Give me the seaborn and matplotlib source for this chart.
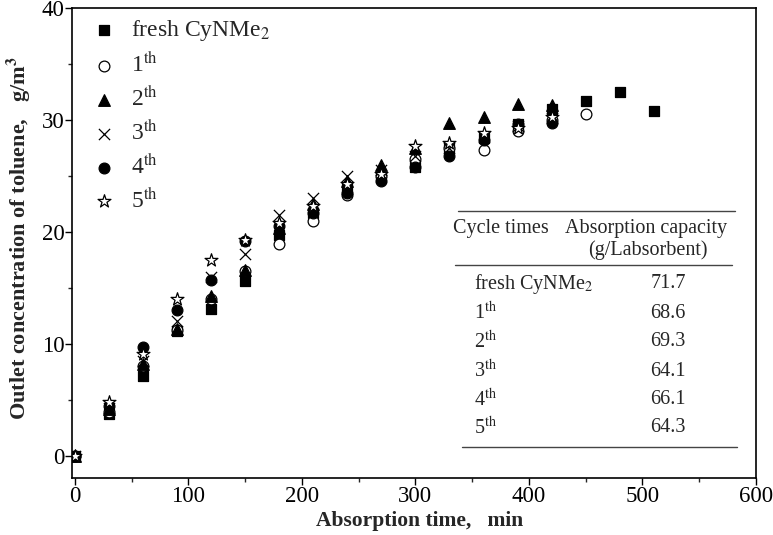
import matplotlib
matplotlib.use("Agg")
import matplotlib.pyplot as plt
import seaborn as sns
import pandas as pd

sns.set_style("ticks")
plt.rcParams['font.family'] = ['Liberation Serif', 'DejaVu Serif']
plt.rcParams['mathtext.fontset'] = 'stix'

times_fresh = [0, 30, 60, 90, 120, 150, 180, 210, 240, 270, 300, 330, 360, 390, 420, 450, 480, 510]
fresh = [0, 3.7, 7.1, 11.1, 13.1, 15.6, 19.7, 21.7, 23.8, 24.8, 25.8, 27.4, 28.4, 29.6, 31.0, 31.7, 32.5, 30.8]
times_1 = [0, 30, 60, 90, 120, 150, 180, 210, 240, 270, 300, 330, 360, 390, 420, 450]
cyc1 = [0, 3.9, 8.0, 11.2, 14.0, 16.5, 18.9, 21.0, 23.3, 25.0, 26.5, 27.5, 27.3, 29.0, 30.0, 30.5]
times_n = [0, 30, 60, 90, 120, 150, 180, 210, 240, 270, 300, 330, 360, 390, 420]
cyc2 = [0, 4.2, 8.2, 11.3, 14.3, 16.6, 20.3, 22.5, 24.5, 26.0, 27.5, 29.7, 30.3, 31.4, 31.3]
cyc3 = [0, 4.3, 8.5, 12.0, 16.0, 18.0, 21.5, 23.0, 25.0, 25.5, 26.8, 27.5, 28.5, 29.5, 30.2]
cyc4 = [0, 4.4, 9.7, 13.0, 15.7, 19.2, 20.5, 21.7, 23.5, 24.5, 25.8, 26.8, 28.2, 29.6, 29.7]
cyc5 = [0, 4.8, 9.1, 14.0, 17.5, 19.3, 20.8, 22.3, 24.3, 25.2, 27.7, 27.9, 28.8, 29.3, 30.3]

labels = ["fresh CyNMe$_2$", "1$^{\\rm th}$", "2$^{\\rm th}$", "3$^{\\rm th}$", "4$^{\\rm th}$", "5$^{\\rm th}$"]
series = [(times_fresh, fresh), (times_1, cyc1), (times_n, cyc2), (times_n, cyc3), (times_n, cyc4), (times_n, cyc5)]

table_rows = ["fresh CyNMe$_2$", "1$^{\\rm th}$", "2$^{\\rm th}$", "3$^{\\rm th}$", "4$^{\\rm th}$", "5$^{\\rm th}$"]
table_vals = ["71.7", "68.6", "69.3", "64.1", "66.1", "64.3"]

styles = [
    dict(marker='s', facecolor='black', edgecolor='black', s=50),
    dict(marker='o', facecolor='white', edgecolor='black', s=60),
    dict(marker='^', facecolor='black', edgecolor='black', s=70),
    dict(marker='x', color='black', s=65),
    dict(marker='o', facecolor='black', edgecolor='black', s=60),
    dict(marker='*', facecolor='white', edgecolor='black', s=95),
]

L, R, T, B = 72, 756, 8, 478
W, H = 773, 535
fig = plt.figure(figsize=(7.73, 5.35), dpi=100)
ax = fig.add_axes([L / W, 1 - B / H, (R - L) / W, (B - T) / H])

for (t, v), lab, st in zip(series, labels, styles):
    df = pd.DataFrame({"t": t, "v": v})
    kw = dict(st)
    if kw['marker'] == 'x':
        sns.scatterplot(data=df, x="t", y="v", ax=ax, label=lab, marker='x', color='black', s=kw['s'], linewidth=0.9)
    else:
        sns.scatterplot(data=df, x="t", y="v", ax=ax, label=lab, marker=kw['marker'],
                        facecolor=kw['facecolor'], edgecolor=kw['edgecolor'], s=kw['s'], linewidth=0.9)

ax.set_xlim(-2.5, 600)
ax.set_ylim(-2, 40)
ax.set_xticks(range(0, 601, 100))
ax.set_yticks(range(0, 41, 10))
ax.set_xticks(range(50, 600, 100), minor=True)
ax.set_yticks(range(5, 40, 10), minor=True)
ax.tick_params(which='major', direction='out', length=5, width=1, labelsize=16.5, colors='black', pad=0.5)
ax.tick_params(which='minor', direction='out', length=3, width=1)
for sp in ax.spines.values():
    sp.set_linewidth(1.2)
    sp.set_color('black')

def px(xp, yp):
    # convert figure pixel (from top-left) to axes fraction
    return ((xp - L) / (R - L), (B - yp) / (B - T))

ax.set_xlabel("Absorption time,   min", fontsize=15.5, fontweight='bold')
ax.set_ylabel("Outlet concentration of toluene,   g/m$^\\mathbf{3}$", fontsize=16, fontweight='bold')
ax.xaxis.label.set_va('center')
ax.yaxis.label.set_va('center')
ax.xaxis.set_label_coords(*px(420, 521))
ax.yaxis.set_label_coords(*px(19, 238))

leg = ax.legend(loc='upper left', frameon=False, fontsize=17, labelspacing=0.38,
                handlelength=1.2, handletextpad=0.55, borderaxespad=0.0, borderpad=0.0,
                bbox_to_anchor=px(90, 18), markerscale=1.0)

line_kw = dict(color='#444444', lw=1.0, transform=ax.transAxes)
for (x0, x1, y) in [(458, 735, 211), (455, 732, 265), (462, 737, 447)]:
    a0 = px(x0, y); a1 = px(x1, y)
    ax.plot([a0[0], a1[0]], [a0[1], a1[1]], **line_kw)

fs = 14.5
ax.text(*px(453, 229), "Cycle times", transform=ax.transAxes, fontsize=fs, ha='left', va='center')
ax.text(*px(646, 229), "Absorption capacity", transform=ax.transAxes, fontsize=fs, ha='center', va='center')
ax.text(*px(648, 250), "(g/Labsorbent)", transform=ax.transAxes, fontsize=fs, ha='center', va='center')
row_y = [284, 313, 342, 371, 400, 428]
for lab, val, y in zip(table_rows, table_vals, row_y):
    ax.text(*px(474, y), lab, transform=ax.transAxes, fontsize=fs, ha='left', va='center')
    ax.text(*px(668, y), val, transform=ax.transAxes, fontsize=fs, ha='center', va='center')

fig.savefig("out.png", dpi=100)
